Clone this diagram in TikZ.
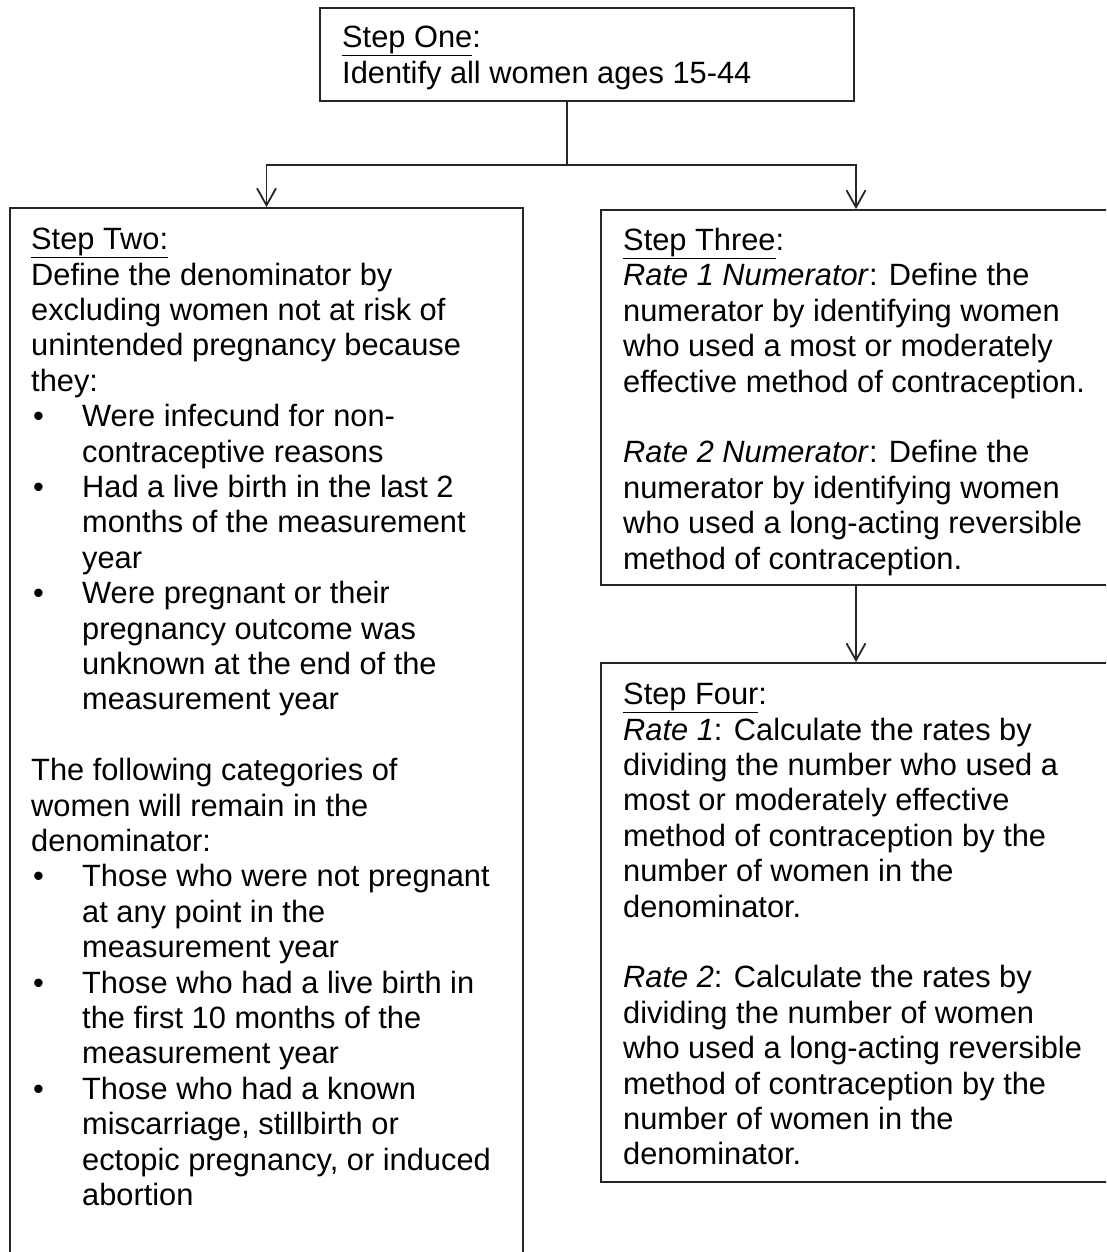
\documentclass[tikz,border=0pt]{standalone}
\usepackage{fontspec}
\setmainfont{Liberation Sans}
\usetikzlibrary{arrows.meta,positioning}

\tikzset{
  stepbox/.style={draw=black!85, line width=1.8pt, inner sep=0pt},
  steptext/.style={anchor=north west, inner sep=0pt, align=left,
    font=\fontsize{30.8}{35.4}\selectfont},
  flow/.style={draw=black!85, line width=1.8pt,
    -{Straight Barb[length=17pt,width=19pt,line width=1.8pt]}}
}
\newcommand{\bul}{\makebox[51pt][l]{\hspace{2pt}\textbullet}}
\newcommand{\ind}{\hspace*{51pt}}

\begin{document}
\begin{tikzpicture}[x=1pt, y=-1pt]
    \useasboundingbox (0,0) rectangle (1106,1252);
    \clip (0,0) rectangle (1106,1252);

    % Draw boxes
    \node[stepbox, minimum width=534pt, minimum height=93pt] (one) at (587,54.5) {};
    \node[stepbox, minimum width=513pt, minimum height=1092pt] (two) at (266.5,754) {};
    \node[stepbox, minimum width=510pt, minimum height=375pt] (three) at (856,397.5) {};
    \node[stepbox, minimum width=510pt, minimum height=519pt] (four) at (856,922.5) {};

    % Draw texts
    \node[steptext] (onetext) at (342,26) {\underline{Step One}:\\
      Identify all women ages 15-44};

    \node[steptext] (twotext) at (31,228) {\underline{Step Two:}\\
      Define the denominator by\\
      excluding women not at risk of\\
      unintended pregnancy because\\
      they:\\
      \bul Were infecund for non-\\
      \ind contraceptive reasons\\
      \bul Had a live birth in the last 2\\
      \ind months of the measurement\\
      \ind year\\
      \bul Were pregnant or their\\
      \ind pregnancy outcome was\\
      \ind unknown at the end of the\\
      \ind measurement year\\[35.4pt]
      The following categories of\\
      women will remain in the\\
      denominator:\\
      \bul Those who were not pregnant\\
      \ind at any point in the\\
      \ind measurement year\\
      \bul Those who had a live birth in\\
      \ind the first 10 months of the\\
      \ind measurement year\\
      \bul Those who had a known\\
      \ind miscarriage, stillbirth or\\
      \ind ectopic pregnancy, or induced\\
      \ind abortion};

    \node[steptext] (threetext) at (623,228) {\underline{Step Three}:\\
      \textit{Rate 1 Numerator}: Define the\\
      numerator by identifying women\\
      who used a most or moderately\\
      effective method of contraception.\\[35.4pt]
      \textit{Rate 2 Numerator}: Define the\\
      numerator by identifying women\\
      who used a long-acting reversible\\
      method of contraception.};

    \node[steptext] (fourtext) at (623,683) {\underline{Step Four}:\\
      \textit{Rate 1}: Calculate the rates by\\
      dividing the number who used a\\
      most or moderately effective\\
      method of contraception by the\\
      number of women in the\\
      denominator.\\[35.4pt]
      \textit{Rate 2}: Calculate the rates by\\
      dividing the number of women\\
      who used a long-acting reversible\\
      method of contraception by the\\
      number of women in the\\
      denominator.};

    % Draw connecting arrows
    \coordinate (split) at (567,165);
    \draw[draw=black!85, line width=1.8pt] (one.south -| split) -- (split);
    \draw[flow] (split) -| (two.north);
    \draw[flow] (split) -| (three.north);
    \draw[flow] (three.south) -- (four.north);

  \end{tikzpicture}
\end{document}
